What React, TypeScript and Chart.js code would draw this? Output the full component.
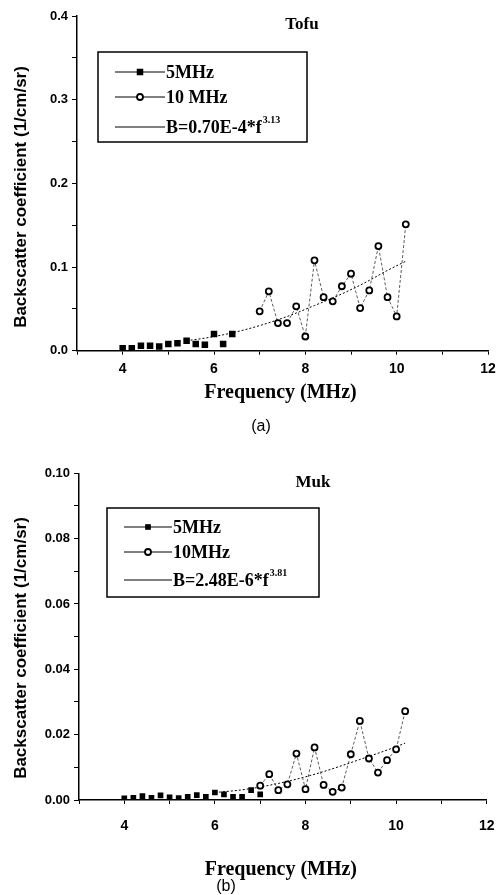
import React, { useEffect, useRef } from "react";
import { Chart, registerables } from "chart.js";

Chart.register(...registerables);

// ---------- Panel (a): Tofu ----------
const tofuFreq5 = [4.0, 4.2, 4.4, 4.6, 4.8, 5.0, 5.2, 5.4, 5.6, 5.8, 6.0, 6.2, 6.4];
const tofuB5 = [0.003, 0.003, 0.006, 0.006, 0.005, 0.008, 0.009, 0.012, 0.008, 0.007, 0.020, 0.008, 0.020];
const tofuFreq10 = [7.0, 7.2, 7.4, 7.6, 7.8, 8.0, 8.2, 8.4, 8.6, 8.8, 9.0, 9.2, 9.4, 9.6, 9.8, 10.0, 10.2];
const tofuB10 = [0.047, 0.071, 0.033, 0.033, 0.053, 0.017, 0.108, 0.064, 0.059, 0.077, 0.092, 0.051, 0.072, 0.125, 0.064, 0.041, 0.151];
const tofuFitFreq = [5.4, 5.8, 6.2, 6.6, 7.0, 7.4, 7.8, 8.2, 8.6, 9.0, 9.4, 9.8, 10.2];
const tofuFitB = [0.012, 0.015, 0.019, 0.024, 0.030, 0.037, 0.045, 0.054, 0.063, 0.073, 0.084, 0.096, 0.107];

// ---------- Panel (b): Muk ----------
const mukFreq5 = [4.0, 4.2, 4.4, 4.6, 4.8, 5.0, 5.2, 5.4, 5.6, 5.8, 6.0, 6.2, 6.4, 6.6, 6.8, 7.0];
const mukB5 = [0.0005, 0.0007, 0.0012, 0.0007, 0.0014, 0.0008, 0.0006, 0.0010, 0.0015, 0.0010, 0.0023, 0.0017, 0.0010, 0.0010, 0.0030, 0.0017];
const mukFreq10 = [7.0, 7.2, 7.4, 7.6, 7.8, 8.0, 8.2, 8.4, 8.6, 8.8, 9.0, 9.2, 9.4, 9.6, 9.8, 10.0, 10.2];
const mukB10 = [0.0044, 0.0079, 0.0030, 0.0048, 0.0142, 0.0033, 0.0161, 0.0046, 0.0025, 0.0038, 0.0140, 0.0242, 0.0127, 0.0084, 0.0122, 0.0155, 0.0272];
const mukFitFreq = [6.0, 6.4, 6.8, 7.2, 7.6, 8.0, 8.4, 8.8, 9.2, 9.6, 10.0, 10.2];
const mukFitB = [0.0023, 0.0028, 0.0035, 0.0045, 0.0057, 0.0071, 0.0087, 0.0105, 0.0124, 0.0143, 0.0163, 0.0174];

// ---------- Text ----------
const xTitle = "Frequency (MHz)";
const yTitle = "Backscatter coefficient (1/cm/sr)";
const tofuTitle = "Tofu";
const mukTitle = "Muk";
const tofuLegend = ["5MHz", "10 MHz", "B=0.70E-4*f"];
const tofuSup = "3.13";
const mukLegend = ["5MHz", "10MHz", "B=2.48E-6*f"];
const mukSup = "3.81";
const tofuCaption = "(a)";
const mukCaption = "(b)";

const xTickMin = 3;
const xTickMax = 12;
const tofuYMax = 0.4;
const tofuYStep = 0.05;
const tofuYLabelStep = 0.1;
const mukYMax = 0.1;
const mukYStep = 0.01;
const mukYLabelStep = 0.02;

const SERIF = '"Liberation Serif", "Times New Roman", serif';
const SANS = '"Liberation Sans", Arial, sans-serif';

type Layout = {
  canvasTop: number;
  height: number;
  padRight: number;
  padTop: number;
  yWidth: number;
  xHeight: number;
  xTickPad: number;
  titlePos: [number, number];
  yTitlePos: [number, number];
  xTitleY: number;
  captionPos: [number, number];
  legendBox: [number, number, number, number];
  legendRows: number[];
  lineX: [number, number];
  markerX: number;
  textX: number;
};

type PanelProps = {
  layout: Layout;
  freq5: number[];
  b5: number[];
  freq10: number[];
  b10: number[];
  fitFreq: number[];
  fitB: number[];
  yMax: number;
  yStep: number;
  yLabelStep: number;
  decimals: number;
  title: string;
  legend: string[];
  sup: string;
  caption: string;
  squareRadius: number;
};

function Panel(p: PanelProps) {
  const ref = useRef<HTMLCanvasElement | null>(null);
  useEffect(() => {
    const canvas = ref.current;
    if (!canvas) return;
    const L = p.layout;
    const decor = {
      id: "decor",
      afterDraw(chart: any) {
        const ctx = chart.ctx as CanvasRenderingContext2D;
        ctx.save();
        ctx.fillStyle = "#000";
        ctx.strokeStyle = "#000";
        // panel title
        ctx.font = `bold 17px ${SERIF}`;
        ctx.textAlign = "center";
        ctx.textBaseline = "middle";
        ctx.fillText(p.title, L.titlePos[0], L.titlePos[1]);
        // x title
        const area = chart.chartArea;
        ctx.font = `bold 20px ${SERIF}`;
        ctx.fillText(xTitle, (area.left + area.right) / 2 - 2, L.xTitleY);
        // caption
        ctx.font = `16px ${SANS}`;
        ctx.fillText(p.caption, L.captionPos[0], L.captionPos[1]);
        // y title
        ctx.save();
        ctx.translate(L.yTitlePos[0], L.yTitlePos[1]);
        ctx.rotate(-Math.PI / 2);
        ctx.font = `bold 17px ${SANS}`;
        ctx.fillText(yTitle, 0, 0);
        ctx.restore();
        // legend box
        const [bx1, by1, bx2, by2] = L.legendBox;
        ctx.lineWidth = 1.5;
        ctx.strokeRect(bx1, by1, bx2 - bx1, by2 - by1);
        ctx.lineWidth = 1;
        ctx.setLineDash([]);
        ctx.textAlign = "left";
        L.legendRows.forEach((ry, i) => {
          ctx.beginPath();
          ctx.moveTo(L.lineX[0], ry);
          ctx.lineTo(L.lineX[1], ry);
          ctx.stroke();
          if (i === 0) {
            const s = p.squareRadius * Math.SQRT1_2;
            ctx.fillRect(L.markerX - s, ry - s, 2 * s, 2 * s);
          } else if (i === 1) {
            ctx.beginPath();
            ctx.arc(L.markerX, ry, 3, 0, Math.PI * 2);
            ctx.fillStyle = "#fff";
            ctx.fill();
            ctx.lineWidth = 1.8;
            ctx.stroke();
            ctx.lineWidth = 1;
            ctx.fillStyle = "#000";
          }
          ctx.font = `bold 18px ${SERIF}`;
          ctx.fillText(p.legend[i], L.textX, ry + 1);
          if (i === 2) {
            const w = ctx.measureText(p.legend[i]).width;
            ctx.font = `bold 10px ${SERIF}`;
            ctx.fillText(p.sup, L.textX + w + 1, ry - 7);
          }
        });
        ctx.restore();
      },
    };

    const isLabel = (v: number) => {
      const r = v / p.yLabelStep;
      return Math.abs(r - Math.round(r)) < 1e-6;
    };

    const chart = new Chart(canvas, {
      type: "scatter",
      data: {
        datasets: [
          {
            label: p.legend[0],
            data: p.freq5.map((f, i) => ({ x: f, y: p.b5[i] })),
            showLine: false,
            pointStyle: "rect",
            pointRadius: p.squareRadius,
            pointBackgroundColor: "#000",
            pointBorderColor: "#000",
            pointBorderWidth: 0,
            order: 1,
          },
          {
            label: p.legend[1],
            data: p.freq10.map((f, i) => ({ x: f, y: p.b10[i] })),
            showLine: true,
            borderColor: "#333",
            borderWidth: 0.8,
            borderDash: [3, 2],
            pointStyle: "circle",
            pointRadius: 3,
            pointBackgroundColor: "#fff",
            pointBorderColor: "#000",
            pointBorderWidth: 1.8,
            order: 0,
          },
          {
            label: p.legend[2],
            data: p.fitFreq.map((f, i) => ({ x: f, y: p.fitB[i] })),
            showLine: true,
            borderColor: "#000",
            borderWidth: 1,
            borderDash: [2, 2],
            pointRadius: 0,
            cubicInterpolationMode: "monotone",
            order: 2,
          },
        ],
      },
      options: {
        animation: false,
        responsive: false,
        layout: { padding: { left: 0, right: L.padRight, top: L.padTop, bottom: 0 } },
        plugins: { legend: { display: false }, tooltip: { enabled: false } },
        scales: {
          x: {
            type: "linear",
            min: xTickMin,
            max: xTickMax,
            afterFit: (s: any) => {
              s.height = L.xHeight;
              s.paddingLeft = 0;
              s.paddingRight = 0;
            },
            ticks: {
              stepSize: 1,
              autoSkip: false,
              maxRotation: 0,
              padding: L.xTickPad,
              color: "#000",
              font: { family: SANS, size: 14, weight: "bold" },
              callback: (v: any) => (Number(v) % 2 === 0 && Number(v) > xTickMin ? String(v) : ""),
            },
            grid: { drawOnChartArea: false, drawTicks: true, tickLength: 4, color: "#000", tickWidth: 1 },
            border: { color: "#000", width: 1.5 },
          },
          y: {
            type: "linear",
            min: 0,
            max: p.yMax,
            afterFit: (s: any) => {
              s.width = L.yWidth;
              s.paddingTop = 0;
              s.paddingBottom = 0;
            },
            ticks: {
              stepSize: p.yStep,
              autoSkip: false,
              padding: 4,
              color: "#000",
              font: { family: SANS, size: 13, weight: "bold" },
              callback: (v: any) => (isLabel(Number(v)) ? Number(v).toFixed(p.decimals) : ""),
            },
            grid: { drawOnChartArea: false, drawTicks: true, tickLength: 5, color: "#000", tickWidth: 1 },
            border: { color: "#000", width: 1.5 },
          },
        },
      },
      plugins: [decor],
    } as any);
    return () => chart.destroy();
  }, []);
  const L = p.layout;
  return (
    <canvas
      ref={ref}
      width={499}
      height={L.height}
      style={{ position: "absolute", left: 0, top: L.canvasTop, width: 499, height: L.height }}
    />
  );
}

const tofuLayout: Layout = {
  canvasTop: 0,
  height: 440,
  padRight: 11,
  padTop: 16,
  yWidth: 77,
  xHeight: 89.3,
  xTickPad: 6,
  titlePos: [302, 25],
  yTitlePos: [21, 197],
  xTitleY: 393,
  captionPos: [261, 427],
  legendBox: [98, 52, 307, 142],
  legendRows: [72, 97, 127],
  lineX: [115, 165],
  markerX: 140,
  textX: 166,
};

const mukLayout: Layout = {
  canvasTop: 440,
  height: 455,
  padRight: 12.3,
  padTop: 33.3,
  yWidth: 79,
  xHeight: 95,
  xTickPad: 14,
  titlePos: [313, 43],
  yTitlePos: [21, 208],
  xTitleY: 430,
  captionPos: [226, 447],
  legendBox: [107, 68, 319, 157],
  legendRows: [87, 112, 140],
  lineX: [124, 172],
  markerX: 148,
  textX: 173,
};

export default function App() {
  return (
    <div style={{ position: "absolute", left: 0, top: 0, width: 499, height: 895, background: "#fff" }}>
      <Panel
        layout={tofuLayout}
        freq5={tofuFreq5}
        b5={tofuB5}
        freq10={tofuFreq10}
        b10={tofuB10}
        fitFreq={tofuFitFreq}
        fitB={tofuFitB}
        yMax={tofuYMax}
        yStep={tofuYStep}
        yLabelStep={tofuYLabelStep}
        decimals={1}
        title={tofuTitle}
        legend={tofuLegend}
        sup={tofuSup}
        caption={tofuCaption}
        squareRadius={4.6}
      />
      <Panel
        layout={mukLayout}
        freq5={mukFreq5}
        b5={mukB5}
        freq10={mukFreq10}
        b10={mukB10}
        fitFreq={mukFitFreq}
        fitB={mukFitB}
        yMax={mukYMax}
        yStep={mukYStep}
        yLabelStep={mukYLabelStep}
        decimals={2}
        title={mukTitle}
        legend={mukLegend}
        sup={mukSup}
        caption={mukCaption}
        squareRadius={4}
      />
    </div>
  );
}
